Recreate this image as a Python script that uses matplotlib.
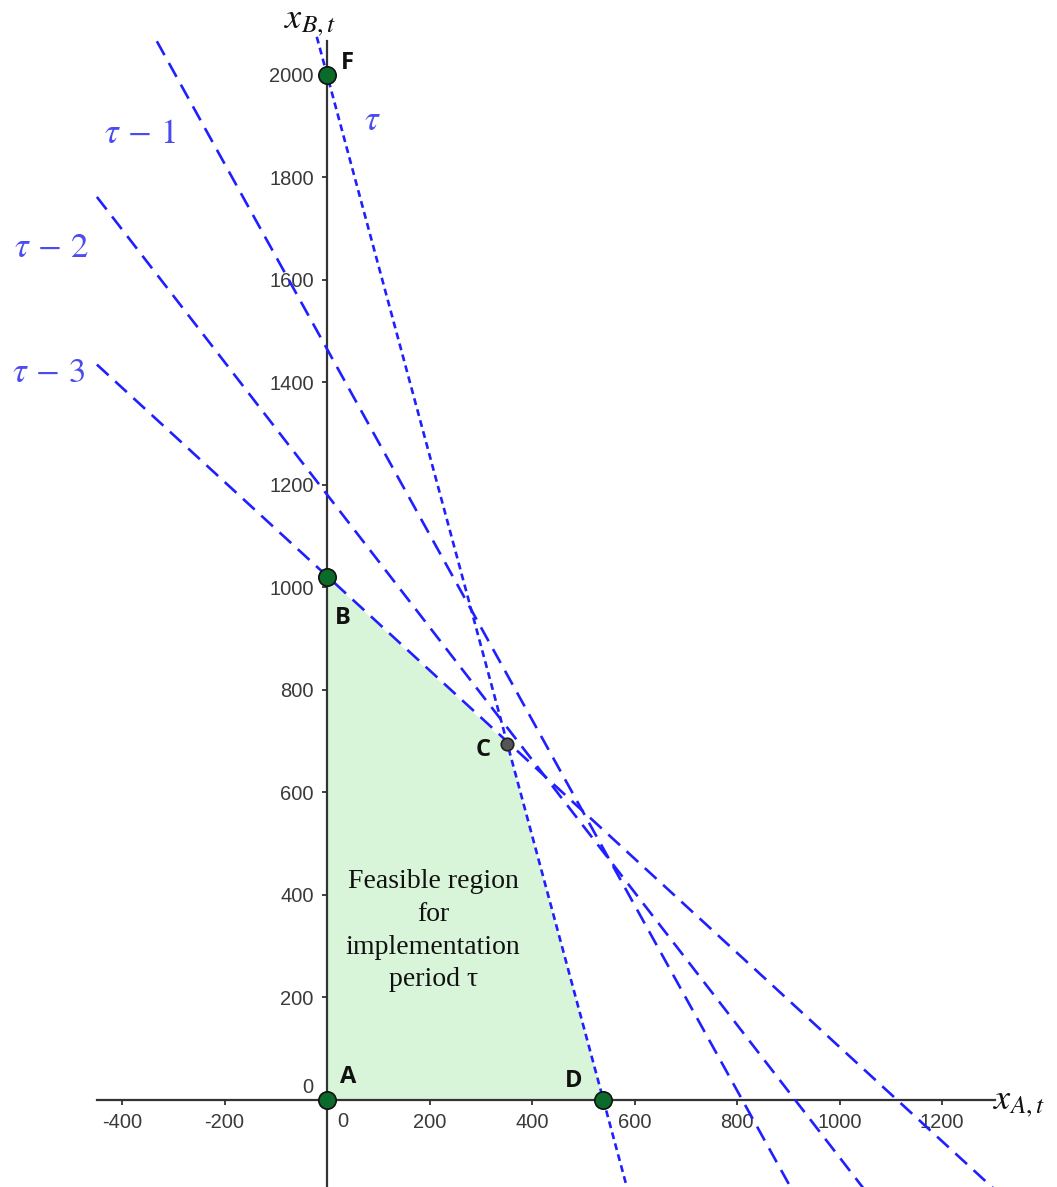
import numpy as np
import matplotlib
matplotlib.use('Agg')
import matplotlib.pyplot as plt

# constraint lines, one per implementation period
line_names = [r'$\tau$', r'$\tau\,-\,1$', r'$\tau\,-\,2$', r'$\tau\,-\,3$']
y_intercepts = [2000, 1465, 1181, 1022]
x_intercepts = [539, 810, 913, 1112]
start_x = [-20, -332, -449, -449]

# corner points of the feasible region
point_names = ['A', 'B', 'C', 'D', 'F']
point_x = [0, 0, 351, 539, 0]
point_y = [0, 1020, 695, 0, 2000]

region_x = [0, 0, 351, 539]
region_y = [0, 1020, 695, 0]

x_ticks = [-400, -200, 200, 400, 600, 800, 1000, 1200]
y_ticks = [200, 400, 600, 800, 1000, 1200, 1400, 1600, 1800, 2000]

plt.rcParams['mathtext.fontset'] = 'stix'
plt.rcParams['axes.unicode_minus'] = False

fig = plt.figure(figsize=(10.57, 11.87), dpi=100)
ax = fig.add_axes([0, 0, 1, 1])
ax.set_xlim(-638, 1424)
ax.set_ylim(-170, 2146)

# axes through the origin, GeoGebra style
for s in ['top', 'right']:
    ax.spines[s].set_visible(False)
ax.spines['left'].set_position(('data', 0))
ax.spines['bottom'].set_position(('data', 0))
ax.spines['left'].set_bounds(-170, 2066)
ax.spines['bottom'].set_bounds(-449, 1303)
for s in ['left', 'bottom']:
    ax.spines[s].set_color('#333333')
    ax.spines[s].set_linewidth(1.6)
    ax.spines[s].set_zorder(2)

ax.set_xticks(x_ticks)
ax.set_yticks(y_ticks)
ax.tick_params(direction='out', length=3.5, width=1.3, color='#333333',
               labelsize=14.5, labelcolor='#3a3a3a', pad=6)
for lab in ax.get_xticklabels() + ax.get_yticklabels():
    lab.set_family('Liberation Sans')
ax.text(30, -42, '0', ha='center', va='center', fontsize=14.5, color='#3a3a3a',
        family='Liberation Sans')
ax.text(-38, 25, '0', ha='center', va='center', fontsize=14.5, color='#3a3a3a',
        family='Liberation Sans')

# feasible region
ax.fill(region_x, region_y, color='#d9f5d9', zorder=1, lw=0)
ax.text(207, 330, 'Feasible region\nfor\nimplementation\nperiod \u03c4', ha='center', va='center',
        fontsize=20, family='Liberation Serif', linespacing=1.4, color='#111111')

# constraint lines
dash_styles = [(2.6, 1.7), (6.0, 3.4), (6.0, 3.4), (6.0, 3.4)]
for b, a, x0, ds in zip(y_intercepts, x_intercepts, start_x, dash_styles):
    xs = np.array([x0, a * (1 + 300.0 / b)])
    ys = b * (1 - xs / a)
    ax.plot(xs, ys, color='#1f1fff', lw=1.9, dashes=ds, zorder=3)

# line labels
label_pos = [(88, 1912), (-365, 1887), (-537, 1664), (-544, 1420)]
for name, (lx, ly) in zip(line_names, label_pos):
    ax.text(lx, ly, name, ha='center', va='center', fontsize=25, color='#4b4bef')

# axis names
ax.text(1350, -4, r'$x_{A,t}$', ha='center', va='center', fontsize=26, color='#111111')
ax.text(-33, 2105, r'$x_{B,t}$', ha='center', va='center', fontsize=26, color='#111111')

# points
for name, px, py in zip(point_names, point_x, point_y):
    if name == 'C':
        ax.plot(px, py, 'o', ms=9, mfc='#555555', mec='#222222', mew=1.2, zorder=5)
    else:
        ax.plot(px, py, 'o', ms=12.5, mfc='#0b6b2b', mec='#111111', mew=1.2, zorder=5)

point_label_pos = {'A': (42, 45), 'B': (30, 940), 'C': (304, 683), 'D': (482, 37), 'F': (40, 2023)}
for name in point_names:
    lx, ly = point_label_pos[name]
    ax.text(lx, ly, name, ha='center', va='center', fontsize=17, fontweight='bold',
            family='Open Sans', color='#111111')

fig.savefig('out.png', dpi=100)
